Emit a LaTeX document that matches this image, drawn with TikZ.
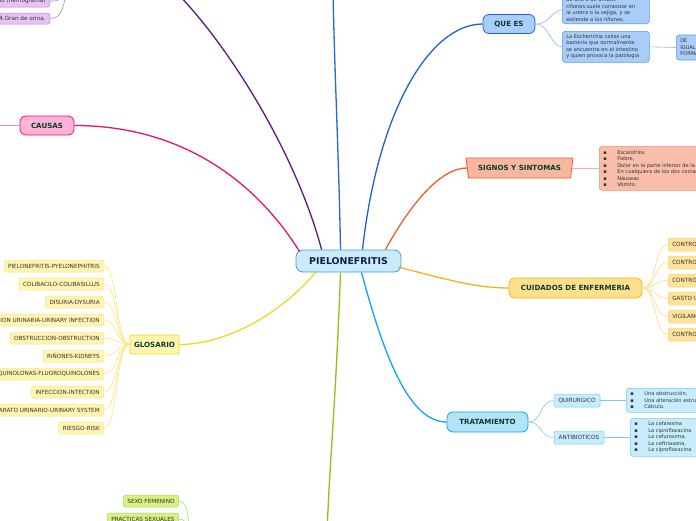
\documentclass[tikz,border=0pt]{standalone}
\usepackage{fontspec}
\setmainfont{DejaVu Sans}
\usepackage{tikz}
\usetikzlibrary{shapes.geometric, positioning}
\usepackage{xcolor}

\definecolor{hubfill}{HTML}{C9EBFB}
\definecolor{hubline}{HTML}{3B9FE3}
\definecolor{hubtext}{HTML}{0D1F4A}
\definecolor{topictext}{HTML}{0C3B2B}
\definecolor{leaftext}{HTML}{333333}
\definecolor{queesfill}{HTML}{A8CDF8}
\definecolor{queesline}{HTML}{2160D0}
\definecolor{queesbox}{HTML}{5B9AE8}
\definecolor{signofill}{HTML}{F9B79F}
\definecolor{signoline}{HTML}{F15A29}
\definecolor{signonote}{HTML}{F9BEAA}
\definecolor{signonoteline}{HTML}{F3906C}
\definecolor{cuidfill}{HTML}{FFDF8C}
\definecolor{cuidline}{HTML}{F7B313}
\definecolor{cuidleaf}{HTML}{FFE39C}
\definecolor{cuidleafline}{HTML}{FCD26A}
\definecolor{tratfill}{HTML}{B3E3F8}
\definecolor{tratline}{HTML}{12A3EA}
\definecolor{tratleaf}{HTML}{C7EDFC}
\definecolor{tratleafline}{HTML}{74CDF3}
\definecolor{glosfill}{HTML}{FFF5AC}
\definecolor{glosline}{HTML}{F0D61E}
\definecolor{glosleaf}{HTML}{FFF4B2}
\definecolor{glosleafline}{HTML}{F7E67E}
\definecolor{causfill}{HTML}{FFB3D8}
\definecolor{causline}{HTML}{E8136F}
\definecolor{purpline}{HTML}{591A7A}
\definecolor{purpleaf}{HTML}{E6C3F3}
\definecolor{purpleafline}{HTML}{BB7ED3}
\definecolor{topblue}{HTML}{2467D6}
\definecolor{greenline}{HTML}{8DC21A}
\definecolor{greenleaf}{HTML}{D6F184}
\definecolor{greenleafline}{HTML}{A9D85B}

\newcommand{\bul}[1]{\makebox[14pt][l]{▪}#1}

\begin{document}
\begin{tikzpicture}[
    x=1pt, y=-1pt,
    hub/.style={rectangle, draw=hubline, fill=hubfill, rounded corners=7pt, line width=0.8pt,
                minimum width=105pt, minimum height=22pt, inner sep=0pt,
                font=\fontsize{9.4}{11}\selectfont\bfseries, text=hubtext},
    topic/.style={rectangle, rounded corners=6pt, line width=0.8pt, minimum height=19pt,
                  inner sep=0pt, font=\fontsize{7.1}{8.5}\selectfont\bfseries, text=topictext},
    leaf/.style={rectangle, rounded corners=1.5pt, line width=0.5pt, minimum height=12pt,
                 inner xsep=4pt, inner ysep=0pt, font=\fontsize{5.7}{7}\selectfont, text=leaftext},
    note/.style={rectangle, rounded corners=3pt, line width=0.6pt, align=left,
                 inner xsep=4pt, inner ysep=2.5pt, font=\fontsize{5.1}{6.5}\selectfont, text=leaftext},
    branch/.style={line width=1.3pt},
    twig/.style={line width=0.6pt},
]
\useasboundingbox (0,0) rectangle (696,520);
\clip (0,0) rectangle (696,520);

% central topic
\node[hub] (pielo) at (348.5,261) {PIELONEFRITIS};

% main topics
\node[topic, draw=queesline, fill=queesfill, minimum width=52pt] (quees) at (509,24) {QUE ES};
\node[trapezium, trapezium stretches=true, shape border rotate=180,
      trapezium left angle=70, trapezium right angle=70, draw=signoline, fill=signofill,
      line width=0.8pt, minimum width=107pt, minimum height=20pt, inner sep=0pt,
      font=\fontsize{7.1}{8.5}\selectfont\bfseries, text=topictext] (signos) at (519.5,168) {SIGNOS Y SINTOMAS};
\node[topic, draw=cuidline, fill=cuidfill, minimum width=133pt, minimum height=20pt] (cuidados) at (575.5,288) {CUIDADOS DE ENFERMERIA};
\node[topic, draw=tratline, fill=tratfill, minimum width=81pt, minimum height=20pt] (trat) at (487.5,422) {TRATAMIENTO};
\node[topic, draw=glosline, fill=glosfill, rounded corners=2pt, minimum width=49pt] (glosario) at (154.5,344.5) {GLOSARIO};
\node[topic, draw=causline, fill=causfill, minimum width=54pt] (causas) at (47,125.5) {CAUSAS};

% off-page ends
\coordinate (purpTop) at (172,-12);
\coordinate (blueTop) at (333,-12);
\coordinate (greenEnd) at (327,535);
\coordinate (purpHub) at (70,-18);
\coordinate (causHub) at (-12,125.5);
\coordinate (greenHub) at (192,540);

% branches from the centre
\draw[branch, purpline] (pielo.north west) ++(26,0) .. controls (295,150) and (225,40) .. (purpTop);
\draw[branch, topblue] (pielo.north) ++(-8,0) .. controls (339,160) and (334,60) .. (blueTop);
\draw[branch, queesline] (pielo.north) ++(14,0) .. controls (378,110) and (430,24) .. (quees.west);
\draw[branch, signoline] (pielo.north east) ++(-16,0) .. controls (410,205) and (440,168) .. (signos.west);
\draw[branch, cuidline] (pielo.east) ++(-3,6) .. controls (455,282) and (480,288) .. (cuidados.west);
\draw[branch, tratline] (pielo.south) ++(13,0) .. controls (385,360) and (410,422) .. (trat.west);
\draw[branch, glosline] (pielo.south west) ++(20,0) .. controls (275,320) and (220,344.5) .. (glosario.east);
\draw[branch, causline] (pielo.north west) ++(4,2) .. controls (255,180) and (180,125.5) .. (causas.east);
\draw[branch, greenline] (pielo.south) ++(-8,0) .. controls (336,400) and (329,470) .. (greenEnd);

% QUE ES
\node[note, draw=queesbox, fill=queesfill, anchor=south west, text width=79pt] (queNote1) at (562,24)
  {de uno o de ambos\\riñones.suele comenzar en\\la uretra o la vejiga, y se\\extiende a los riñones.};
\node[note, draw=queesbox, fill=queesfill, anchor=north west, text width=79pt, minimum height=31pt] (queNote2) at (562,31)
  {La Escherichia colies una\\bacteria que normalmente\\se encuentra en el intestino\\y quien provoca la patologia};
\node[note, draw=queesbox, fill=queesfill, anchor=west, text width=30pt, minimum height=25pt] (queNote3) at (676,47.5)
  {DE\\IGUAL\\FORMA};
\draw[twig, queesbox!70] (quees.east) .. controls (550,24) and (550,12) .. (queNote1.west);
\draw[twig, queesbox!70] (quees.east) .. controls (550,24) and (550,46.5) .. (queNote2.west);
\draw[twig, queesbox!70] (queNote2.east) -- (queNote3.west);

% SIGNOS Y SINTOMAS
\node[note, draw=signonoteline, fill=signonote, anchor=north west, text width=120pt, minimum height=44pt] (signoNote) at (599,146)
  {\bul{Escalofríos}\\\bul{Fiebre,}\\\bul{Dolor en la parte inferior de la espalda}\\\bul{En cualquiera de los dos costados}\\\bul{Náuseas}\\\bul{Vómito.}};
\draw[twig, signonoteline!70] (signos.east) -- (signoNote.west |- signos.east);

% CUIDADOS DE ENFERMERIA
\node[leaf, draw=cuidleafline, fill=cuidleaf, anchor=west, text width=60pt, align=left, minimum height=13pt] (c1) at (668,244.5) {CONTROL};
\node[leaf, draw=cuidleafline, fill=cuidleaf, below=4.5pt of c1.south west, anchor=north west, text width=60pt, align=left, minimum height=13pt] (c2) {CONTROL};
\node[leaf, draw=cuidleafline, fill=cuidleaf, below=4.5pt of c2.south west, anchor=north west, text width=60pt, align=left, minimum height=13pt] (c3) {CONTROL};
\node[leaf, draw=cuidleafline, fill=cuidleaf, below=4.5pt of c3.south west, anchor=north west, text width=60pt, align=left, minimum height=13pt] (c4) {GASTO URINARIO};
\node[leaf, draw=cuidleafline, fill=cuidleaf, below=4.5pt of c4.south west, anchor=north west, text width=60pt, align=left, minimum height=13pt] (c5) {VIGILANCIA};
\node[leaf, draw=cuidleafline, fill=cuidleaf, below=4.5pt of c5.south west, anchor=north west, text width=60pt, align=left, minimum height=13pt] (c6) {CONTROL};
\foreach \c in {c1,c2,c3,c4,c5,c6}
  \draw[twig, cuidleafline!80] (cuidados.east) .. controls +(14,0) and +(-14,0) .. (\c.west);

% TRATAMIENTO
\node[leaf, draw=tratleafline, fill=tratleaf, minimum width=46pt, minimum height=13pt, inner xsep=3pt] (quir) at (577,400.5) {QUIRURGICO};
\node[leaf, draw=tratleafline, fill=tratleaf, minimum width=50pt, minimum height=13pt, inner xsep=3pt] (antib) at (579,437.5) {ANTIBIOTICOS};
\node[note, draw=tratleafline, fill=tratleaf, anchor=north west, text width=90pt, minimum height=24pt] (quirNote) at (626,388)
  {\bul{Una obstrucción,}\\\bul{Una alteración estructural}\\\bul{Cálculo.}};
\node[note, draw=tratleafline, fill=tratleaf, anchor=north west, text width=90pt, minimum height=38pt] (antibNote) at (630,418)
  {\bul{La cefalexina}\\\bul{La ciprofloxacina}\\\bul{La cefuroxima,}\\\bul{La ceftriaxona,}\\\bul{La ciprofloxacina}};
\draw[twig, tratleafline] (trat.east) .. controls +(14,0) and +(-14,0) .. (quir.west);
\draw[twig, tratleafline] (trat.east) .. controls +(14,0) and +(-14,0) .. (antib.west);
\draw[twig, tratleafline] (quir.east) -- (quirNote.west |- quir.east);
\draw[twig, tratleafline] (antib.east) -- (antibNote.west |- antib.east);

% GLOSARIO
\node[leaf, draw=glosleafline, fill=glosleaf, anchor=east] (g1) at (104,266) {PIELONEFRITIS-PYELONEPHITRIS};
\node[leaf, draw=glosleafline, fill=glosleaf, below=5.5pt of g1.south east, anchor=north east] (g2) {COLIBACILO-COLIBASILLUS};
\node[leaf, draw=glosleafline, fill=glosleaf, below=5.5pt of g2.south east, anchor=north east] (g3) {DISURIA-DYSURIA};
\node[leaf, draw=glosleafline, fill=glosleaf, below=5.5pt of g3.south east, anchor=north east] (g4) {INFECCION URINARIA-URINARY INFECTION};
\node[leaf, draw=glosleafline, fill=glosleaf, below=5.5pt of g4.south east, anchor=north east] (g5) {OBSTRUCCION-OBSTRUCTION};
\node[leaf, draw=glosleafline, fill=glosleaf, below=5.5pt of g5.south east, anchor=north east] (g6) {RIÑONES-KIDNEYS};
\node[leaf, draw=glosleafline, fill=glosleaf, below=5.5pt of g6.south east, anchor=north east] (g7) {FLUOROQUINOLONAS-FLUOROQUINOLONES};
\node[leaf, draw=glosleafline, fill=glosleaf, below=5.5pt of g7.south east, anchor=north east] (g8) {INFECCION-INTECTION};
\node[leaf, draw=glosleafline, fill=glosleaf, below=5.5pt of g8.south east, anchor=north east] (g9) {APARATO URINARIO-URINARY SYSTEM};
\node[leaf, draw=glosleafline, fill=glosleaf, below=5.5pt of g9.south east, anchor=north east] (g10) {RIESGO-RISK};
\foreach \g in {g1,g2,g3,g4,g5,g6,g7,g8,g9,g10}
  \draw[twig, glosleafline] (\g.east) .. controls +(14,0) and +(-14,0) .. (glosario.west);

% CAUSAS
\draw[twig, causline!50] (causas.west) -- (causHub);

% upper left (purple)
\node[leaf, draw=purpleafline, fill=purpleaf, anchor=east, minimum height=12pt] (p1) at (50,1) {rio (hemograma)};
\node[leaf, draw=purpleafline, fill=purpleaf, anchor=east, minimum height=11pt] (p2) at (50,18.5) {4.Gran de orina.};
\draw[twig, purpleafline] (p1.east) .. controls +(12,0) and (62,0) .. (purpHub);
\draw[twig, purpleafline] (p2.east) .. controls +(14,0) and (62,5) .. (purpHub);

% bottom (green)
\node[leaf, draw=greenleafline, fill=greenleaf, minimum width=54pt] (sexo) at (151,501) {SEXO FEMENINO};
\node[leaf, draw=greenleafline, fill=greenleaf, minimum width=70pt] (practicas) at (143,519) {PRACTICAS SEXUALES};
\draw[twig, greenleafline] (sexo.east) .. controls +(12,0) and (186,525) .. (greenHub);
\draw[twig, greenleafline] (practicas.east) .. controls +(10,0) and (186,530) .. (greenHub);
\end{tikzpicture}
\end{document}
